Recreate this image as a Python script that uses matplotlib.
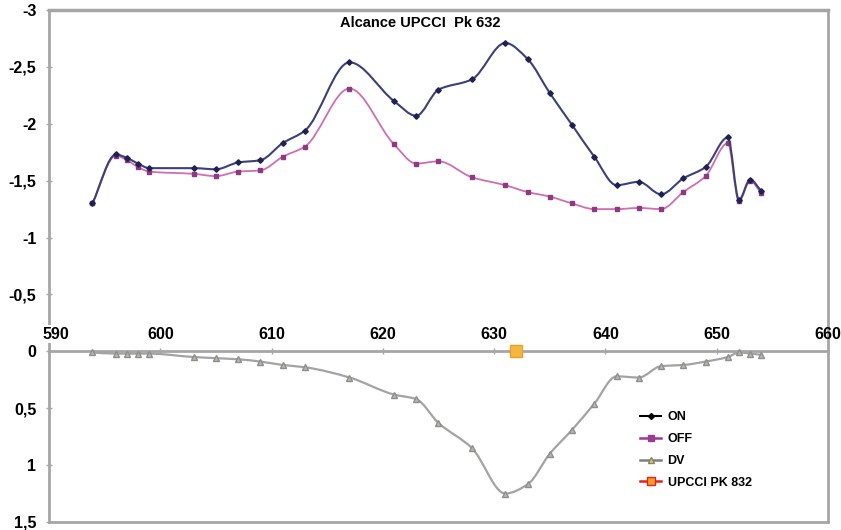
import matplotlib
matplotlib.use("Agg")
import matplotlib.pyplot as plt
from matplotlib.path import Path
from matplotlib.patches import PathPatch
from matplotlib.lines import Line2D
from matplotlib.transforms import ScaledTranslation
import numpy as np

# ---- data ----
pk = [593.9, 596, 597, 598, 599, 603, 605, 607, 609, 611, 613, 617, 621, 623,
      625, 628, 631, 633, 635, 637, 639, 641, 643, 645, 647, 649, 651, 652, 653, 654]
on_vals = [-1.30, -1.73, -1.70, -1.65, -1.61, -1.61, -1.60, -1.66, -1.68, -1.83,
           -1.94, -2.54, -2.20, -2.07, -2.30, -2.39, -2.71, -2.57, -2.27, -1.99,
           -1.71, -1.46, -1.49, -1.38, -1.52, -1.62, -1.88, -1.33, -1.51, -1.41]
off_vals = [-1.30, -1.72, -1.68, -1.62, -1.58, -1.56, -1.54, -1.58, -1.59, -1.71,
            -1.80, -2.31, -1.82, -1.65, -1.67, -1.53, -1.46, -1.40, -1.36, -1.30,
            -1.25, -1.25, -1.26, -1.25, -1.40, -1.54, -1.83, -1.32, -1.50, -1.39]
dv_vals = [0.01, 0.02, 0.02, 0.02, 0.02, 0.05, 0.06, 0.07, 0.09, 0.12,
           0.14, 0.23, 0.38, 0.42, 0.63, 0.85, 1.25, 1.17, 0.90, 0.69,
           0.46, 0.22, 0.23, 0.13, 0.12, 0.09, 0.05, 0.01, 0.02, 0.03]
upcci_pk = [632]
upcci_val = [0]

x_ticks = [590, 600, 610, 620, 630, 640, 650, 660]
x_tick_labels = ["590", "600", "610", "620", "630", "640", "650", "660"]
y_ticks = [-3, -2.5, -2, -1.5, -1, -0.5, 0, 0.5, 1, 1.5]
y_tick_labels = ["-3", "-2,5", "-2", "-1,5", "-1", "-0,5", "0", "0,5", "1", "1,5"]

title = "Alcance UPCCI  Pk 632"
legend_labels = ["ON", "OFF", "DV", "UPCCI PK 832"]

plt.rcParams['font.family'] = ['Liberation Sans', 'DejaVu Sans']

fig = plt.figure(figsize=(8.41, 5.30), dpi=100)
ax = fig.add_axes([49/841, 1-522/530, (828-49)/841, (522-10)/530])

GRAY = '#A6A6A6'


def smooth_path(xs, ys):
    """Bezier path through the data points (monotone cubic tangents)."""
    x = np.asarray(xs, float)
    y = np.asarray(ys, float)
    n = len(x)
    h = np.diff(x)
    d = np.diff(y) / h
    m = np.zeros(n)
    m[0], m[-1] = d[0], d[-1]
    for i in range(1, n - 1):
        if d[i - 1] * d[i] <= 0:
            m[i] = 0.0
        else:
            w1 = 2 * h[i] + h[i - 1]
            w2 = h[i] + 2 * h[i - 1]
            m[i] = (w1 + w2) / (w1 / d[i - 1] + w2 / d[i])
    verts = [(x[0], y[0])]
    codes = [Path.MOVETO]
    for i in range(n - 1):
        c1 = (x[i] + h[i] / 3, y[i] + m[i] * h[i] / 3)
        c2 = (x[i + 1] - h[i] / 3, y[i + 1] - m[i + 1] * h[i] / 3)
        verts += [c1, c2, (x[i + 1], y[i + 1])]
        codes += [Path.CURVE4] * 3
    return Path(verts, codes)


def draw_series(xs, ys, lc, lw, marker, mfc, mec, ms, z):
    ax.add_patch(PathPatch(smooth_path(xs, ys), facecolor='none', edgecolor=lc,
                           lw=lw, zorder=z))
    ax.plot(xs, ys, linestyle='none', marker=marker, markerfacecolor=mfc,
            markeredgecolor=mec, markersize=ms, zorder=z + 0.1)


draw_series(pk, dv_vals, '#A3A3A3', 1.6, '^', '#B8B8A8', '#8E8E8E', 4, 3)
draw_series(pk, off_vals, '#CF6FAE', 1.3, 's', '#8E3A80', '#8E3A80', 2.8, 4)
draw_series(pk, on_vals, '#3C3F7C', 1.5, 'D', '#1F2152', '#1F2152', 2.8, 5)
ax.plot(upcci_pk, upcci_val, linestyle='none', marker='s', markersize=8,
        markerfacecolor='#F5B642', markeredgecolor='#F0A020', zorder=6,
        clip_on=False)

ax.set_xlim(590, 660)
ax.set_ylim(1.5, -3)

# axis line at y = 0 with labels above it
ax.spines['top'].set_position(('data', 0))
ax.spines['top'].set_color(GRAY)
ax.spines['top'].set_linewidth(2)
ax.xaxis.tick_top()
ax.set_xticks(x_ticks)
ax.set_xticklabels(x_tick_labels)
ax.tick_params(axis='x', direction='inout', length=4, width=1, color=GRAY,
               pad=5, labelsize=11.5)
for lab in ax.get_xticklabels():
    lab.set_fontweight('bold')
ax.xaxis.set_zorder(3)
first = ax.get_xticklabels()[0]
first.set_transform(first.get_transform() +
                    ScaledTranslation(7/100, 0, fig.dpi_scale_trans))
first.set_bbox(dict(facecolor='white', edgecolor='none', pad=1))

ax.set_yticks(y_ticks)
ax.set_yticklabels(y_tick_labels)
ax.tick_params(axis='y', direction='inout', length=4, width=1, color=GRAY,
               pad=7, labelsize=11.5)
for lab in ax.get_yticklabels():
    lab.set_fontweight('bold')

for s in ['left', 'right', 'bottom']:
    ax.spines[s].set_color(GRAY)
    ax.spines[s].set_linewidth(2)
    ax.spines[s].set_zorder(2)
ax.axhline(-3, color=GRAY, lw=2.5, clip_on=False, zorder=1)

ax.text(0.5, 1 - 23/530, title, transform=fig.transFigure, ha='center',
        va='center', fontsize=10.5, fontweight='bold')

handles = [
    Line2D([], [], color='black', lw=1.5, marker='D', markersize=3,
           markerfacecolor='black', markeredgecolor='black'),
    Line2D([], [], color='#9B3A93', lw=1.8, marker='s', markersize=4,
           markerfacecolor='#9B3A93', markeredgecolor='#9B3A93'),
    Line2D([], [], color='#808080', lw=1.8, marker='^', markersize=5,
           markerfacecolor='#E8D820', markeredgecolor='#808080'),
    Line2D([], [], color='#E82020', lw=1.8, marker='s', markersize=6,
           markerfacecolor='#F5A020', markeredgecolor='#E82020'),
]
leg = fig.legend(handles, legend_labels, loc='center left',
                 bbox_to_anchor=(640/841, 1 - 450/530),
                 bbox_transform=fig.transFigure, frameon=False,
                 prop={'weight': 'bold', 'size': 9}, handlelength=1.7,
                 handletextpad=0.5, labelspacing=0.78, borderpad=0,
                 borderaxespad=0)

fig.savefig('out.png', dpi=100, facecolor='white')
